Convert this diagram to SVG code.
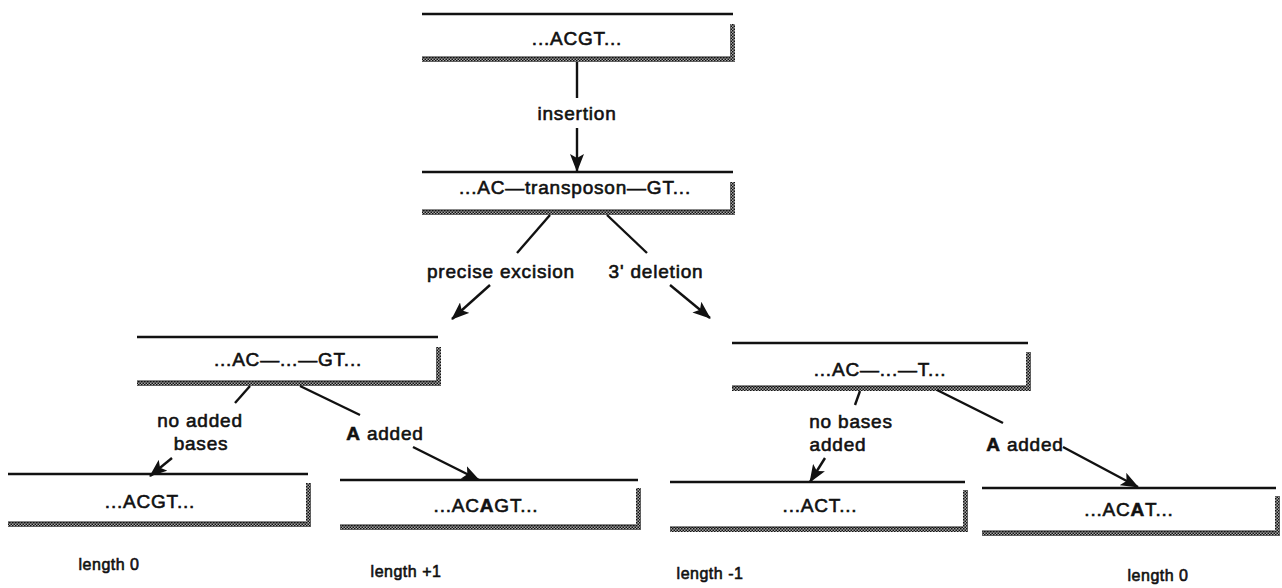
<svg xmlns="http://www.w3.org/2000/svg" width="1282" height="588" viewBox="0 0 1282 588">
<defs>
<pattern id="hatch" width="3" height="3" patternUnits="userSpaceOnUse">
<rect width="3" height="3" fill="#a8a8a8"/>
<rect width="1.5" height="1.5" fill="#111"/>
<rect x="1.5" y="1.5" width="1.5" height="1.5" fill="#111"/>
</pattern>
<marker id="ah" viewBox="0 0 18 14" refX="17" refY="7" markerWidth="18" markerHeight="14" markerUnits="userSpaceOnUse" orient="auto">
<path d="M0,0 L18,7 L0,14 L4,7 z" fill="#111"/>
</marker>
<style>
.top{stroke:#111;stroke-width:2.5;fill:none}
.sh{fill:url(#hatch)}
.edge{stroke:#111;stroke-width:1}
text{font-family:"Liberation Sans",Arial,sans-serif;font-size:19px;letter-spacing:0.8px;fill:#111;stroke:#111;stroke-width:0.6;text-anchor:middle}
.len{font-size:16px;letter-spacing:0.5px}
.b{font-weight:bold}
.c{stroke:#111;stroke-width:2.4;fill:none}
.ca{stroke:#111;stroke-width:2.4;fill:none;marker-end:url(#ah)}
</style>
</defs>
<rect width="1282" height="588" fill="#fff"/>

<g id="n1">
<line class="top" x1="422" y1="14" x2="733" y2="14"/>
<rect class="sh" x="422" y="57" width="313" height="5"/>
<rect class="sh" x="730" y="24" width="5" height="38"/>
<line class="edge" x1="422" y1="57" x2="730" y2="57"/>
<text x="577" y="45">...ACGT...</text>
</g>

<g id="n2">
<line class="top" x1="422" y1="172" x2="733" y2="172"/>
<rect class="sh" x="422" y="210" width="313" height="5"/>
<rect class="sh" x="730" y="182" width="5" height="33"/>
<line class="edge" x1="422" y1="210" x2="730" y2="210"/>
<text x="575" y="194">...AC—transposon—GT...</text>
</g>

<g id="n3">
<line class="top" x1="137" y1="337" x2="438" y2="337"/>
<rect class="sh" x="137" y="381" width="304" height="5"/>
<rect class="sh" x="436" y="347" width="5" height="39"/>
<line class="edge" x1="137" y1="381" x2="436" y2="381"/>
<text x="288" y="366">...AC—...—GT...</text>
</g>

<g id="n4">
<line class="top" x1="732" y1="343" x2="1028" y2="343"/>
<rect class="sh" x="732" y="386" width="299" height="5"/>
<rect class="sh" x="1026" y="352" width="5" height="39"/>
<line class="edge" x1="732" y1="386" x2="1026" y2="386"/>
<text x="880" y="376">...AC—...—T...</text>
</g>

<g id="n5">
<line class="top" x1="8" y1="474" x2="308" y2="474"/>
<rect class="sh" x="8" y="522" width="303" height="5"/>
<rect class="sh" x="306" y="483" width="5" height="44"/>
<line class="edge" x1="8" y1="522" x2="306" y2="522"/>
<text x="150" y="508">...ACGT...</text>
</g>

<g id="n6">
<line class="top" x1="340" y1="480" x2="638" y2="480"/>
<rect class="sh" x="340" y="525" width="301" height="5"/>
<rect class="sh" x="636" y="488" width="5" height="42"/>
<line class="edge" x1="340" y1="525" x2="636" y2="525"/>
<text x="486" y="512">...AC<tspan class="b">A</tspan>GT...</text>
</g>

<g id="n7">
<line class="top" x1="670" y1="482" x2="965" y2="482"/>
<rect class="sh" x="670" y="527" width="298" height="5"/>
<rect class="sh" x="963" y="490" width="5" height="42"/>
<line class="edge" x1="670" y1="527" x2="963" y2="527"/>
<text x="820" y="512">...ACT...</text>
</g>

<g id="n8">
<line class="top" x1="982" y1="488" x2="1276" y2="488"/>
<rect class="sh" x="982" y="531" width="298" height="5"/>
<rect class="sh" x="1275" y="496" width="5" height="40"/>
<line class="edge" x1="982" y1="531" x2="1275" y2="531"/>
<text x="1129" y="516">...AC<tspan class="b">A</tspan>T...</text>
</g>

<g id="connectors">
<line class="c" x1="577" y1="62" x2="577" y2="98"/>
<line class="ca" x1="577" y1="128" x2="577" y2="171"/>
<line class="c" x1="550" y1="215" x2="517" y2="253"/>
<line class="ca" x1="490" y1="285" x2="452" y2="319"/>
<line class="c" x1="607" y1="215" x2="647" y2="253"/>
<line class="ca" x1="670" y1="285" x2="710" y2="318"/>
<line class="c" x1="250" y1="386" x2="235" y2="403"/>
<line class="ca" x1="172" y1="458" x2="150" y2="476"/>
<line class="c" x1="300" y1="386" x2="360" y2="415"/>
<line class="ca" x1="413" y1="447" x2="479" y2="480"/>
<line class="c" x1="860" y1="391" x2="855" y2="405"/>
<line class="ca" x1="825" y1="458" x2="810" y2="482"/>
<line class="c" x1="937" y1="390" x2="1003" y2="423"/>
<line class="ca" x1="1063" y1="447" x2="1138" y2="487"/>
</g>

<g id="labels">
<text x="577" y="120">insertion</text>
<text x="501" y="278">precise excision</text>
<text x="656" y="278">3' deletion</text>
<text x="200" y="427">no added</text>
<text x="201" y="450">bases</text>
<text x="385" y="440"><tspan class="b">A</tspan> added</text>
<text x="851" y="428">no bases</text>
<text x="838" y="451">added</text>
<text x="1025" y="451"><tspan class="b">A</tspan> added</text>
<text class="len" x="109" y="570">length 0</text>
<text class="len" x="406" y="577">length +1</text>
<text class="len" x="710" y="579">length -1</text>
<text class="len" x="1158" y="581">length 0</text>
</g>
</svg>
